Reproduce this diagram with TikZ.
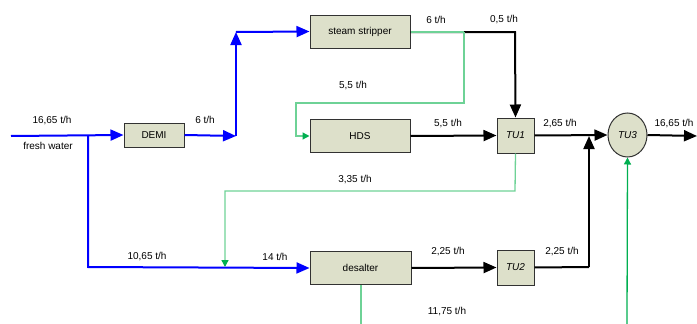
\documentclass[tikz,border=0pt]{standalone}
\usepackage{fontspec}
\setmainfont{Liberation Sans}
\usetikzlibrary{arrows.meta,shapes.geometric}
\definecolor{unitfill}{RGB}{221,224,202}
\definecolor{unitdraw}{RGB}{50,50,50}
\definecolor{waterblue}{RGB}{0,0,255}
\definecolor{recycle}{RGB}{110,210,150}
\definecolor{recyclehead}{RGB}{0,175,80}
\tikzset{
  unit/.style={draw=unitdraw, line width=1pt, fill=unitfill, rectangle, inner sep=0pt,
    font=\fontsize{10}{12}\selectfont},
  tunit/.style={unit, minimum width=37pt, minimum height=35pt, font=\fontsize{10}{12}\selectfont\itshape},
  flowlabel/.style={font=\fontsize{10}{12}\selectfont, inner sep=0pt},
  bluef/.style={draw=waterblue, line width=2pt},
  bluearr/.style={bluef, -{Triangle[length=13pt,width=11pt]}},
  blackf/.style={draw=black, line width=2pt},
  blackarr/.style={blackf, -{Triangle[length=13pt,width=11pt]}},
  greenf/.style={draw=recycle, line width=1.3pt},
  greenarr/.style={greenf, -{Triangle[length=7pt,width=7pt,fill=recyclehead,color=recyclehead]}},
}
\begin{document}
\begin{tikzpicture}[x=1pt,y=-1pt]
\useasboundingbox (0,0) rectangle (697,324);

% process units
\node[unit, minimum width=60pt, minimum height=24pt] (demi) at (154,135) {DEMI};
\node[unit, minimum width=100pt, minimum height=33pt] (stripper) at (360,31.5) {steam stripper};
\node[unit, minimum width=100pt, minimum height=33pt] (hds) at (360,136) {HDS};
\node[unit, minimum width=101pt, minimum height=33pt] (desalter) at (360.5,268) {desalter};
\node[tunit] (tu1) at (515.5,135.5) {TU1};
\node[tunit] (tu2) at (515.5,267.5) {TU2};
\node[unit, ellipse, minimum width=39pt, minimum height=44pt, font=\fontsize{10}{12}\selectfont\itshape] (tu3) at (627.5,135) {TU3};

% routing points
\coordinate (fwin) at (11,136);
\coordinate (split) at (88,136);
\coordinate (splitlow) at (88,267);
\coordinate (riseb) at (236,136);
\coordinate (riset) at (236,32);
\coordinate (sgreen) at (464,32);
\coordinate (sgreenlow) at (464,103);
\coordinate (sleft) at (296,103);
\coordinate (sleftlow) at (296,136);
\coordinate (tu1top) at (515,32);
\coordinate (tu1low) at (515,191);
\coordinate (backleft) at (225,191);
\coordinate (backjoin) at (225,267);
\coordinate (join) at (589,136);
\coordinate (joinlow) at (589,267);
\coordinate (outend) at (697,136);
\coordinate (tu3feed) at (627,324);
\coordinate (dsout) at (361,324);

% fresh water distribution
\draw[bluearr] (fwin) -- (demi.west);
\draw[bluearr] (split) -- (splitlow) -- (desalter.west);
\draw[bluearr] (demi.east) -- (riseb);
\draw[bluearr] (riseb) -- (riset);
\draw[bluearr] (riset) -- (stripper.west);

% stripped water
\draw[blackarr] (stripper.east |- sgreen) -- (tu1top) -- (tu1.north);
\draw[greenf] (stripper.east |- sgreen) -- (sgreen);
\draw[greenarr] (sgreen) -- (sgreenlow) -- (sleft) -- (sleftlow) -- (hds.west);

% effluent to treatment units
\draw[blackarr] (hds.east) -- (tu1.west);
\draw[blackarr] (desalter.east) -- (tu2.west);
\draw[blackf] (tu2.east) -- (joinlow);
\draw[blackarr] (joinlow) -- (join);
\draw[blackarr] (tu1.east) -- (tu3.west);
\draw[blackarr] (tu3.east) -- (outend);

% recycles
\draw[greenarr] (tu1.south) -- (tu1low) -- (backleft) -- (backjoin);
\draw[greenf] (desalter.south -| dsout) -- (dsout);
\draw[greenarr, draw=recyclehead] (tu3feed) -- (tu3.south);

% flow rates
\node[flowlabel] (l1) at (52,121) {16,65 t/h};
\node[flowlabel] (l2) at (48,146) {fresh water};
\node[flowlabel] (l3) at (205,120) {6 t/h};
\node[flowlabel] (l4) at (436,20) {6 t/h};
\node[flowlabel] (l5) at (504,20) {0,5 t/h};
\node[flowlabel] (l6) at (353,86) {5,5 t/h};
\node[flowlabel] (l7) at (448,124) {5,5 t/h};
\node[flowlabel] (l8) at (560,124) {2,65 t/h};
\node[flowlabel] (l9) at (674,124) {16,65 t/h};
\node[flowlabel] (l10) at (355,180) {3,35 t/h};
\node[flowlabel] (l11) at (147,257) {10,65 t/h};
\node[flowlabel] (l12) at (275,257) {14 t/h};
\node[flowlabel] (l13) at (448,252) {2,25 t/h};
\node[flowlabel] (l14) at (562,252) {2,25 t/h};
\node[flowlabel] (l15) at (447,312) {11,75 t/h};
\end{tikzpicture}
\end{document}
